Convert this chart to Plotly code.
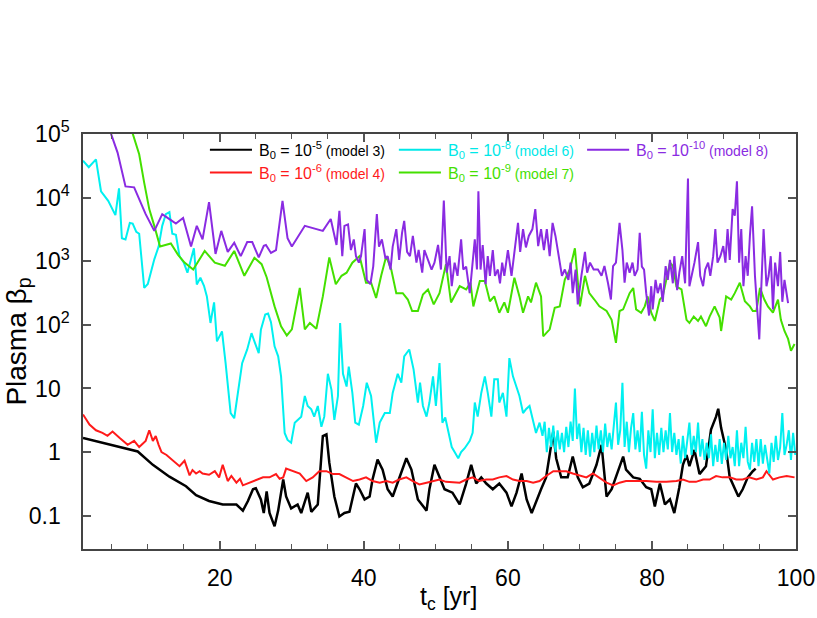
import plotly.graph_objects as go

# model 3, B0 = 1e-5 (black)
t_m3 = [1.0, 8.6, 10.7, 13.0, 15.3, 16.7, 18.5, 20.4, 22.3, 23.2, 23.9, 24.6, 25.0, 25.7, 26.1, 26.5,
        26.9, 27.6, 28.1, 28.8, 29.2, 29.9, 30.8, 31.3, 32.2, 32.7, 33.6, 34.3, 34.8, 35.2, 35.9, 36.6,
        37.3, 38.0, 38.9, 39.4, 40.1, 40.8, 41.2, 41.9, 42.6, 43.3, 44.0, 44.9, 45.9, 46.6, 47.5, 48.7,
        49.1, 49.8, 50.5, 51.2, 52.3, 53.3, 54.2, 54.9, 55.6, 56.3, 57.0, 57.9, 58.8, 59.8, 60.5, 61.2,
        61.9, 62.6, 63.3, 64.0, 64.6, 65.3, 65.8, 66.3, 66.7, 67.4, 68.3, 69.0, 69.7, 70.4, 71.3, 72.3,
        73.0, 73.7, 74.4, 75.0, 76.0, 76.4, 77.4, 78.3, 79.2, 79.9, 80.4, 81.1, 81.8, 82.5, 83.1, 83.8,
        84.3, 84.8, 85.2, 85.9, 86.6, 87.5, 88.2, 88.9, 89.2, 89.6, 90.3, 90.8, 91.5, 92.0, 92.6, 93.3,
        94.0, 94.4]
beta_m3 = [1.66, 1.02, 0.63, 0.41, 0.29, 0.21, 0.17, 0.15, 0.15, 0.12, 0.17, 0.26, 0.27, 0.18, 0.11, 0.24,
           0.11, 0.068, 0.12, 0.37, 0.2, 0.13, 0.15, 0.11, 0.23, 0.115, 0.15, 1.78, 1.9, 0.68, 0.2, 0.097,
           0.11, 0.115, 0.32, 0.26, 0.18, 0.2, 0.37, 0.76, 0.53, 0.26, 0.2, 0.4, 0.8, 0.53, 0.18, 0.12,
           0.26, 0.63, 0.4, 0.26, 0.23, 0.15, 0.32, 0.63, 0.32, 0.4, 0.32, 0.26, 0.32, 0.23, 0.14, 0.23,
           0.46, 0.18, 0.11, 0.18, 0.26, 0.4, 0.85, 2.1, 0.8, 0.4, 0.4, 0.85, 0.4, 0.28, 0.32, 0.63,
           1.3, 0.2, 0.26, 0.4, 0.85, 0.53, 0.4, 0.38, 0.28, 0.26, 0.14, 0.32, 0.15, 0.18, 0.11, 0.28,
           0.63, 0.9, 0.6, 1.08, 0.45, 0.6, 2.25, 3.6, 4.8, 2.4, 1.08, 0.4, 0.26, 0.2, 0.26, 0.4,
           0.5, 0.55]

# model 4, B0 = 1e-6 (red)
t_m4 = [1.0, 1.9, 2.8, 3.7, 4.4, 5.1, 6.1, 6.6, 7.2, 8.1, 8.8, 9.7, 10.2, 10.7, 11.1, 11.5, 11.9, 12.6,
        13.5, 14.0, 14.4, 15.1, 15.8, 16.2, 16.7, 17.2, 17.6, 18.5, 19.3, 19.9, 20.4, 21.1, 21.6, 22.3,
        22.8, 23.2, 24.1, 25.3, 26.0, 26.9, 27.8, 28.3, 28.8, 29.2, 30.1, 31.1, 32.0, 32.9, 33.8, 34.8,
        35.7, 36.6, 37.5, 38.5, 39.4, 40.3, 41.2, 42.2, 43.1, 44.0, 44.9, 45.9, 46.8, 47.7, 48.7, 49.6,
        50.5, 51.4, 52.4, 53.3, 54.2, 55.1, 56.0, 57.0, 57.9, 58.8, 59.8, 60.7, 61.6, 62.6, 63.5, 64.4,
        65.3, 66.3, 67.2, 68.1, 69.0, 70.0, 70.9, 71.8, 72.8, 73.7, 74.6, 75.5, 76.4, 77.8, 79.2, 80.6,
        82.0, 83.4, 84.3, 85.2, 86.1, 87.1, 88.0, 88.9, 89.8, 90.8, 91.7, 92.6, 93.5, 94.5, 95.4, 95.9,
        96.8, 97.7, 98.7, 99.8]
beta_m4 = [3.9, 2.7, 2.2, 2.0, 1.8, 2.1, 1.66, 1.5, 1.3, 1.5, 1.2, 1.5, 2.2, 1.5, 1.78, 1.3, 1.0, 0.9,
           0.73, 0.65, 0.6, 0.73, 0.43, 0.52, 0.46, 0.5, 0.46, 0.44, 0.5, 0.4, 0.63, 0.35, 0.42, 0.33,
           0.38, 0.3, 0.33, 0.37, 0.4, 0.4, 0.45, 0.38, 0.4, 0.55, 0.5, 0.46, 0.35, 0.4, 0.5, 0.5,
           0.45, 0.45, 0.4, 0.35, 0.37, 0.4, 0.35, 0.33, 0.35, 0.33, 0.37, 0.4, 0.35, 0.31, 0.33, 0.35,
           0.37, 0.34, 0.33, 0.33, 0.37, 0.4, 0.35, 0.37, 0.37, 0.4, 0.42, 0.37, 0.35, 0.35, 0.33, 0.35,
           0.42, 0.5, 0.5, 0.5, 0.46, 0.43, 0.4, 0.46, 0.38, 0.33, 0.3, 0.33, 0.35, 0.35, 0.35, 0.34,
           0.34, 0.35, 0.37, 0.34, 0.34, 0.37, 0.37, 0.42, 0.4, 0.4, 0.37, 0.37, 0.4, 0.37, 0.4, 0.5,
           0.37, 0.4, 0.42, 0.4]

# model 6, B0 = 1e-8 (cyan)
t_m6 = [1.0, 1.8, 2.8, 3.5, 4.5, 5.5, 6.0, 6.4, 6.9, 7.5, 7.9, 8.4, 8.8, 9.5, 10.0, 10.5, 10.9, 11.5,
        12.0, 12.5, 13.0, 13.4, 13.9, 14.4, 15.0, 15.5, 15.9, 16.4, 16.8, 17.3, 17.8, 18.2, 18.7, 19.2,
        19.6, 20.3, 20.8, 21.3, 21.5, 22.0, 22.4, 23.1, 23.8, 24.4, 24.9, 25.4, 25.7, 26.3, 26.7, 27.1,
        27.6, 28.1, 28.5, 29.0, 29.4, 29.9, 30.4, 30.8, 31.3, 31.8, 32.2, 32.7, 33.1, 33.6, 34.1, 34.5,
        35.0, 35.5, 35.9, 36.4, 36.7, 37.1, 37.6, 37.9, 38.4, 38.8, 39.3, 39.9, 40.4, 41.0, 41.5, 41.7,
        42.2, 42.9, 43.6, 44.0, 44.7, 45.2, 45.6, 46.3, 46.9, 47.5, 47.8, 48.2, 48.7, 49.1, 49.6, 50.0,
        50.5, 50.9, 51.3, 51.7, 52.2, 52.6, 53.1, 53.5, 54.0, 54.7, 55.1, 55.4, 55.8, 56.3, 56.8, 57.2,
        57.7, 58.1, 58.6, 58.8, 59.3, 59.8, 60.2, 60.7, 61.2, 61.6, 62.1, 62.5, 63.0, 63.5, 63.9, 64.4,
        64.8, 65.1, 65.4, 65.7, 66.0, 66.3, 66.6, 66.9, 67.2, 67.5,
        67.8, 68.1, 68.4, 68.7, 69.0, 69.3, 69.6, 69.9, 70.2, 70.5,
        70.8, 71.1, 71.4, 71.7, 72.0, 72.3, 72.6, 72.9, 73.2, 73.5,
        73.8, 74.1, 74.4, 74.7, 75.0, 75.3, 75.6, 75.9, 76.2, 76.5,
        76.8, 77.1, 77.4, 77.7, 78.0, 78.3, 78.6, 78.9, 79.2, 79.5,
        79.8, 80.1, 80.4, 80.7, 81.0, 81.3, 81.6, 81.9, 82.2, 82.5,
        82.8, 83.1, 83.4, 83.7, 84.0, 84.3, 84.6, 84.9, 85.2, 85.5,
        85.8, 86.1, 86.4, 86.7, 87.0, 87.3, 87.6, 87.9, 88.2, 88.5,
        88.8, 89.1, 89.4, 89.7, 90.0, 90.3, 90.6, 90.9, 91.2, 91.5,
        91.8, 92.1, 92.4, 92.7, 93.0, 93.3, 93.6, 93.9, 94.2, 94.5,
        94.8, 95.1, 95.4, 95.7, 96.0, 96.3, 96.6, 96.9, 97.2, 97.5,
        97.8, 98.1, 98.4, 98.7, 99.0, 99.3, 99.6, 99.9]
beta_m6 = [38000, 30000, 40000, 12600, 8900, 5300, 14000, 2300, 2200, 4000, 3900, 2900, 2700, 380, 440, 740,
           1070, 1700, 3600, 5500, 5900, 2700, 2600, 1200, 950, 660, 950, 1600, 430, 550, 410, 280, 107,
           225, 55, 79, 25, 7.5, 4.1, 3.4, 7.5, 25, 41, 74, 51, 36, 84, 145, 150, 110, 46, 32, 15.5, 2.0,
           1.55, 1.4, 2.9, 3.2, 3.6, 7.6, 5.3, 4.7, 3.6, 5.3, 2.5, 3.6, 17, 9.5, 3.2, 7.6, 107, 17, 10.7,
           22, 8.5, 2.9, 2.7, 5.3, 12.3, 7.6, 2.5, 1.4, 2.9, 4.1, 4.1, 8.5, 17, 12.3, 32, 41, 20, 6, 12.3,
           5.3, 3.6, 6, 15.5, 5.3, 25, 2.9, 3.5, 2.2, 1.2, 1.0, 0.8, 1.0, 1.15, 1.5, 2.0, 6, 3.6, 8.5,
           15.5, 8.5, 3.6, 14, 14, 6, 8.5, 3.6, 30, 15.5, 10, 7.6, 4.1, 4.7, 5.3, 3.2, 2.0, 2.9,
           1.8, 3.0, 1.0, 2.4, 1.2, 2.6, 1.0, 2.2, 1.1, 2.0,
           1.0, 2.5, 1.2, 3.0, 1.5, 10, 1.6, 2.8, 1.0, 2.4,
           0.9, 2.2, 0.85, 2.0, 1.0, 2.6, 1.1, 2.2, 1.0, 2.8,
           1.2, 2.0, 1.1, 2.6, 6, 1.3, 2.2, 12.3, 1.2, 3.0,
           1.0, 2.4, 4.1, 1.1, 2.2, 1.0, 4.3, 0.9, 0.55, 2.2,
           1.0, 4.7, 0.8, 2.0, 0.9, 2.4, 1.0, 2.2, 1.1, 4.1,
           1.0, 2.0, 0.9, 1.6, 0.66, 1.8, 0.8, 1.5, 2.9, 0.9,
           1.8, 1.0, 2.9, 0.85, 1.6, 0.75, 1.4, 0.8, 1.9, 0.6,
           1.3, 0.7, 1.6, 0.65, 1.4, 0.75, 1.8, 0.8, 1.2, 0.6,
           2.2, 0.6, 1.4, 0.8, 2.5, 0.7, 0.53, 1.4, 0.7, 1.6,
           0.6, 1.6, 0.66, 1.3, 0.8, 0.46, 1.4, 0.7, 1.8, 0.75,
           1.2, 4.1, 0.9, 1.3, 2.2, 0.75, 2.0, 0.9]

# model 7, B0 = 1e-9 (green)
t_m7 = [6.6, 7.9, 8.8, 9.5, 10.2, 10.9, 11.7, 13.2, 14.2, 15.1, 16.3, 17.9, 19.3, 20.7, 22.0, 23.4,
        24.8, 25.8, 26.5, 27.6, 28.5, 29.3, 30.0, 31.1, 31.8, 32.5, 33.4, 34.3, 35.2, 36.1, 36.9, 37.6,
        38.4, 39.4, 39.9, 40.3, 41.0, 41.7, 42.4, 43.1, 43.8, 44.5, 45.4, 46.1, 46.7, 47.5, 48.2, 48.9,
        49.7, 50.5, 51.4, 52.1, 53.3, 54.2, 54.8, 55.2, 56.1, 56.8, 57.5, 58.1, 58.8, 59.5, 60.0, 60.9,
        61.6, 62.1, 62.8, 63.2, 63.9, 64.6, 64.9, 65.8, 66.5, 67.2, 67.9, 68.6, 69.3, 70.0, 70.7, 71.3,
        72.0, 72.7, 73.7, 74.4, 75.0, 75.5, 76.0, 76.9, 77.4, 77.8, 78.5, 79.0, 79.4, 79.9, 80.4, 81.1,
        81.5, 82.0, 82.5, 82.9, 83.4, 84.1, 84.8, 85.2, 85.8, 86.4, 86.8, 87.5, 88.0, 88.7, 89.4, 89.6,
        90.3, 91.0, 91.5, 92.2, 92.9, 93.6, 94.0, 94.5, 95.0, 95.6, 96.1, 96.8, 97.5, 97.9, 98.4, 98.9,
        99.3, 99.8]
beta_m7 = [300000, 100000, 48000, 17000, 6600, 3600, 1700, 1900, 1260, 950, 740, 1450, 950, 850, 1450, 590,
           1130, 900, 560, 195, 95, 68, 85, 380, 85, 107, 87, 280, 1150, 435, 590, 660,
           950, 1200, 660, 460, 460, 265, 590, 1200, 740, 315, 315, 250, 165, 165, 300, 360,
           210, 315, 900, 225, 405, 360, 460, 195, 490, 490, 235, 280, 155, 225, 155, 550,
           280, 155, 280, 225, 460, 280, 66, 85, 185, 195, 515, 740, 1600, 195, 590, 315,
           250, 195, 165, 120, 52, 165, 175, 315, 380, 175, 155, 195, 280, 155, 115, 250,
           280, 515, 950, 840, 400, 360, 120, 107, 135, 115, 135, 95, 135, 195, 130, 80,
           280, 250, 315, 460, 235, 195, 165, 165, 380, 250, 195, 155, 250, 120, 80, 60,
           39, 50]

# model 8, B0 = 1e-10 (purple)
t_m8 = [4.5, 4.9, 5.8, 6.9, 8.1, 9.7, 10.9, 12.0, 13.0, 13.9, 14.9, 16.0, 16.8, 17.6, 18.5, 19.4, 20.2,
        21.1, 22.0, 22.9, 23.8, 24.5, 25.4, 26.1, 26.4, 27.1, 27.8, 28.7, 29.4, 30.0, 31.8, 34.3, 35.4,
        35.9, 36.2, 36.6, 37.0, 37.3, 37.8, 38.2, 38.6, 38.9, 39.3, 39.6, 40.1, 40.4, 40.9, 41.3, 41.8,
        42.1, 42.5, 43.0, 43.3, 43.7, 44.0, 44.5, 44.9, 45.3, 45.6, 46.0, 46.4, 46.8, 47.3, 47.6, 48.1,
        48.4, 48.9, 49.4, 49.8, 50.3, 50.7, 51.1, 51.5, 51.9, 52.2, 52.6, 53.0, 53.5, 53.8, 54.2, 54.7,
        55.0, 55.4, 55.7, 55.9, 56.2, 56.5, 56.9, 57.2, 57.5, 57.9, 58.2, 58.6, 58.9, 59.2, 59.5, 60.0,
        60.5, 60.9, 61.4, 61.7, 62.1, 62.5, 62.9, 63.4, 63.8, 64.2, 64.6, 65.0, 65.4, 65.8, 66.2, 66.6,
        66.9, 67.1, 67.5, 67.9, 68.4, 68.7, 69.0, 69.4, 69.7, 70.2, 70.7, 71.0, 71.4, 71.9, 72.5, 73.0,
        73.4, 73.9, 74.3, 74.6, 75.0, 75.5, 75.9, 76.2, 76.5, 76.9, 77.3, 77.6, 78.0, 78.3, 78.6, 78.9,
        79.2, 79.6, 79.9, 80.1, 80.5, 80.8, 81.2, 81.5, 81.9, 82.2, 82.5, 82.9, 83.1, 83.5, 83.8, 84.2,
        84.6, 85.0, 85.2, 85.6, 85.9, 86.4, 86.7, 87.1, 87.4, 87.8, 88.1, 88.5, 88.8, 89.1, 89.5, 89.9,
        90.2, 90.5, 90.8, 91.2, 91.5, 91.8, 92.1, 92.4, 92.7, 93.0, 93.3, 93.6, 93.9, 94.3, 94.9, 95.5,
        95.9, 96.2, 96.5, 96.8, 97.1, 97.5, 97.8, 98.1, 98.4, 98.9]
beta_m8 = [200000, 100000, 51000, 15000, 14500, 5500, 3000, 5500, 4600, 3900, 4800, 1700, 3600, 2200, 8500, 1300, 3000,
           1400, 1950, 1200, 2000, 2000, 1150, 1750, 1800, 1350, 1500, 8900, 2300, 1700, 3600, 3000, 4600,
           2700, 1800, 6200, 1200, 3600, 3800, 1500, 2200, 1200, 950, 1200, 3200, 510, 435, 830, 5500,
           1700, 2200, 1100, 1200, 740, 1700, 3200, 1050, 2800, 4300, 1400, 1200, 2500, 950, 1500, 660,
           1500, 1050, 740, 950, 1800, 740, 9000, 660, 1200, 405, 950, 590, 2200, 740, 820, 315,
           660, 2200, 740, 12600, 740, 1800, 435, 1200, 590, 1500, 590, 740, 450, 950, 590, 1500,
           590, 1500, 4000, 1400, 3200, 1650, 2500, 3200, 6600, 1730, 3200, 1500, 3200, 1200, 4000, 2500,
           1500, 1200, 590, 740, 510, 950, 315, 740, 210, 590, 1400, 660, 950, 740, 740, 590,
           840, 450, 250, 840, 950, 4000, 1500, 460, 950, 660, 950, 590, 740, 2800, 820, 740,
           315, 140, 405, 175, 510, 315, 450, 230, 840, 510, 1050, 450, 1200, 350, 660, 1200,
           450, 20000, 405, 660, 950, 2000, 590, 405, 740, 950, 590, 1200, 3200, 950, 1200, 1730,
           950, 3200, 1050, 6600, 5200, 18000, 950, 3200, 405, 1200, 590, 2500, 7300, 590, 59, 3200,
           405, 590, 1200, 175, 950, 405, 1400, 230, 510, 220]

# y tick labels; the plain ones carry an invisible superscript so the digits line up as in the original
hidden_sup = "<sup><span style='color:rgba(0,0,0,0)'>0</span></sup>"
y_tickvals = [0.1, 1, 10, 100, 1000, 1e4, 1e5]
y_ticktext = ["0.1" + hidden_sup, "1" + hidden_sup, "10" + hidden_sup,
              "10<sup>2</sup>", "10<sup>3</sup>", "10<sup>4</sup>", "10<sup>5</sup>"]
x_tickvals = [20, 40, 60, 80, 100]

series = [
    (t_m3, beta_m3, "#000000", 2.5),
    (t_m4, beta_m4, "#ff1a1a", 2),
    (t_m6, beta_m6, "#00f0f0", 2),
    (t_m7, beta_m7, "#44e000", 2),
    (t_m8, beta_m8, "#8a2be2", 2),
]

fig = go.Figure()
for t, b, c, w in series:
    fig.add_trace(go.Scatter(x=t, y=b, mode="lines", line=dict(color=c, width=w), showlegend=False))

# hand-made legend (two rows, three columns), text coloured like the lines
legend_items = [
    ("-5", "model 3", "#000000", 0, 0),
    ("-8", "model 6", "#00e8e8", 0, 1),
    ("-10", "model 8", "#8a2be2", 0, 2),
    ("-6", "model 4", "#ff1a1a", 1, 0),
    ("-9", "model 7", "#44e000", 1, 1),
]
col_x = [0.178, 0.443, 0.707]
row_y = [0.962, 0.907]
for expo, model, c, r, k in legend_items:
    x0 = col_x[k]
    y0 = row_y[r]
    fig.add_shape(type="line", xref="paper", yref="paper", x0=x0, x1=x0 + 0.059, y0=y0, y1=y0,
                  line=dict(color=c, width=2))
    fig.add_annotation(xref="paper", yref="paper", x=x0 + 0.066, y=y0, xanchor="left", yanchor="middle",
                       showarrow=False, font=dict(size=16, color=c),
                       text=f"B<sub>0</sub> = 10<sup>{expo}</sup><span style='font-size:14px'> ({model})</span>")

# axis titles placed by hand
fig.add_annotation(xref="paper", yref="paper", x=-0.091, y=0.5, textangle=-90, showarrow=False,
                   xanchor="center", yanchor="middle",
                   text="Plasma β<sub>p</sub>", font=dict(size=28, color="black"))
fig.add_annotation(xref="paper", yref="paper", x=0.512, y=-0.117, showarrow=False,
                   xanchor="center", yanchor="middle",
                   text="t<sub>c</sub> [yr]", font=dict(size=25, color="black"))

axis_common = dict(
    showline=True, linecolor="#444444", linewidth=1.5, mirror="allticks",
    ticks="inside", ticklen=8, tickwidth=1.5, tickcolor="#555555",
    showgrid=False, zeroline=False, tickfont=dict(size=23, color="black"),
    automargin=False,
)

fig.update_xaxes(
    range=[1, 100], tickvals=x_tickvals, ticklabelstandoff=8,
    minor=dict(tickvals=[5, 10, 15, 25, 30, 35, 45, 50, 55, 65, 70, 75, 85, 90, 95],
               ticks="inside", ticklen=5, tickwidth=1.2, tickcolor="#555555", showgrid=False),
    **axis_common,
)
fig.update_yaxes(
    type="log", range=[-1.524, 5.0],
    tickvals=y_tickvals, ticktext=y_ticktext,
    ticklabelstandoff=7,
    **axis_common,
)

fig.update_layout(
    width=817, height=618,
    margin=dict(l=83, r=21, t=134, b=69),
    plot_bgcolor="white", paper_bgcolor="white",
    font=dict(family="Liberation Sans, Arial, sans-serif", color="black"),
    showlegend=False,
)

# drop the page's default body margin so the figure sits in the corner of the window
fig.write_html("out.html", config={"displayModeBar": False},
               post_script="document.body.style.margin='0px';")
